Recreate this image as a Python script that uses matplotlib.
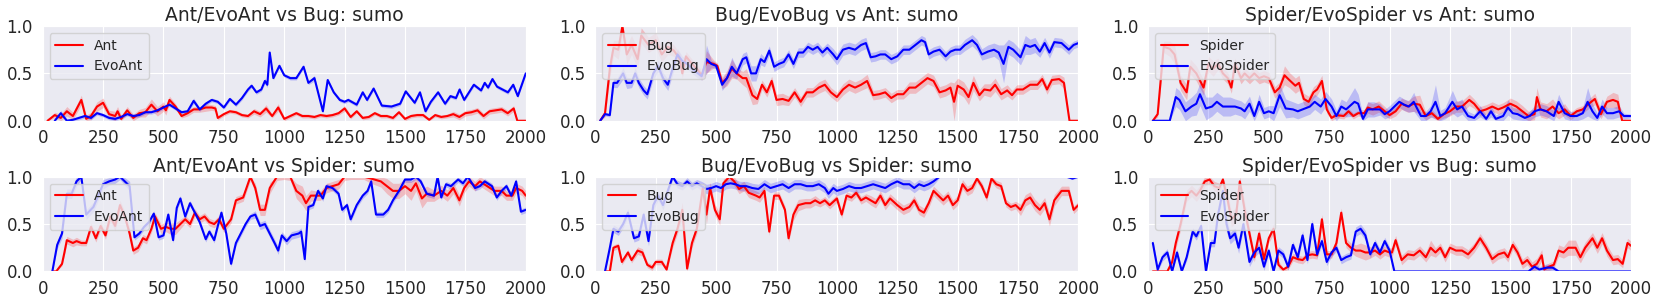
import numpy as np
import matplotlib
matplotlib.use("Agg")
import matplotlib.pyplot as plt
import seaborn as sns

# each series: (iteration, mean win rate, half width of the shaded band)
ant_vs_bug = [(20,0.00,0.01),(50,0.06,0.03),(75,0.03,0.04),(100,0.10,0.05),(125,0.05,0.04),(160,0.22,0.05),(180,0.02,0.04),(200,0.05,0.04),(225,0.15,0.05),(250,0.19,0.05),(275,0.07,0.04),(300,0.05,0.05),(310,0.10,0.05),(325,0.02,0.04),(350,0.11,0.04),(375,0.03,0.04),(400,0.08,0.04),(425,0.09,0.05),(450,0.17,0.06),(475,0.10,0.05),(500,0.15,0.05),(510,0.11,0.05),(525,0.22,0.04),(550,0.15,0.03),(575,0.05,0.02),(600,0.08,0.03),(625,0.12,0.03),(650,0.12,0.03),(675,0.14,0.04),(700,0.14,0.03),(715,0.13,0.03),(725,0.03,0.02),(750,0.07,0.02),(775,0.10,0.02),(800,0.09,0.02),(825,0.06,0.02),(850,0.05,0.02),(875,0.10,0.03),(900,0.07,0.03),(925,0.13,0.04),(950,0.05,0.02),(975,0.14,0.04),(1000,0.02,0.02),(1025,0.05,0.02),(1050,0.08,0.02),(1075,0.05,0.02),(1100,0.05,0.02),(1125,0.04,0.02),(1150,0.06,0.02),(1175,0.05,0.02),(1200,0.06,0.02),(1225,0.08,0.02),(1250,0.13,0.03),(1275,0.04,0.02),(1300,0.10,0.02),(1325,0.03,0.02),(1350,0.04,0.02),(1375,0.08,0.02),(1400,0.05,0.02),(1425,0.05,0.02),(1450,0.03,0.02),(1475,0.09,0.02),(1500,0.02,0.02),(1525,0.05,0.02),(1550,0.06,0.02),(1575,0.06,0.02),(1600,0.01,0.02),(1625,0.06,0.02),(1650,0.04,0.02),(1675,0.05,0.02),(1700,0.07,0.03),(1725,0.04,0.03),(1750,0.08,0.03),(1775,0.09,0.03),(1800,0.11,0.03),(1825,0.05,0.03),(1850,0.10,0.03),(1875,0.11,0.03),(1900,0.12,0.03),(1925,0.08,0.03),(1950,0.13,0.03),(1965,0.00,0.01),(2000,0.00,0.00)]
evoant_vs_bug = [(50,0.00,0.01),(75,0.08,0.03),(100,0.00,0.02),(125,0.01,0.02),(150,0.03,0.02),(175,0.05,0.02),(200,0.03,0.02),(225,0.08,0.02),(250,0.06,0.02),(275,0.03,0.02),(300,0.02,0.02),(325,0.04,0.02),(350,0.07,0.02),(375,0.05,0.02),(400,0.06,0.02),(425,0.09,0.02),(450,0.09,0.02),(475,0.11,0.02),(500,0.14,0.02),(525,0.17,0.02),(550,0.13,0.02),(575,0.09,0.02),(600,0.10,0.02),(625,0.21,0.03),(650,0.12,0.02),(675,0.18,0.02),(700,0.22,0.02),(725,0.20,0.02),(750,0.14,0.02),(775,0.23,0.02),(800,0.17,0.02),(825,0.24,0.02),(850,0.33,0.02),(865,0.37,0.02),(885,0.30,0.02),(905,0.33,0.02),(920,0.42,0.03),(930,0.38,0.03),(940,0.72,0.02),(955,0.45,0.02),(980,0.58,0.02),(1000,0.48,0.02),(1025,0.45,0.02),(1050,0.45,0.02),(1080,0.57,0.02),(1100,0.40,0.02),(1125,0.45,0.03),(1160,0.10,0.02),(1180,0.43,0.02),(1205,0.30,0.02),(1230,0.22,0.02),(1250,0.20,0.02),(1265,0.22,0.02),(1300,0.17,0.02),(1325,0.30,0.02),(1343,0.22,0.02),(1370,0.34,0.02),(1404,0.16,0.02),(1444,0.15,0.02),(1480,0.18,0.02),(1503,0.31,0.02),(1540,0.19,0.02),(1562,0.30,0.02),(1585,0.10,0.02),(1607,0.20,0.02),(1637,0.30,0.02),(1666,0.18,0.02),(1688,0.26,0.02),(1711,0.24,0.02),(1726,0.33,0.02),(1745,0.22,0.02),(1785,0.38,0.02),(1815,0.32,0.02),(1830,0.40,0.02),(1844,0.35,0.02),(1862,0.44,0.02),(1881,0.36,0.02),(1926,0.30,0.02),(1948,0.38,0.02),(1967,0.26,0.02),(2000,0.50,0.02)]

bug_vs_ant = [(20,0.00,0.02),(40,0.08,0.04),(60,0.55,0.10),(75,0.77,0.08),(95,0.75,0.10),(112,1.00,0.08),(130,0.70,0.10),(150,0.80,0.10),(175,0.65,0.10),(190,0.90,0.08),(220,0.80,0.08),(250,0.85,0.08),(275,0.70,0.08),(300,0.78,0.08),(325,0.74,0.06),(350,0.65,0.06),(360,0.50,0.05),(375,0.68,0.05),(400,0.60,0.05),(420,0.55,0.05),(440,0.48,0.05),(460,0.62,0.12),(490,0.60,0.04),(505,0.58,0.03),(525,0.40,0.06),(545,0.45,0.08),(565,0.55,0.10),(585,0.50,0.06),(610,0.45,0.07),(625,0.45,0.10),(650,0.27,0.10),(670,0.23,0.05),(690,0.38,0.05),(710,0.30,0.05),(730,0.42,0.05),(750,0.22,0.06),(775,0.23,0.06),(800,0.21,0.05),(825,0.30,0.05),(850,0.20,0.05),(875,0.30,0.05),(900,0.30,0.05),(925,0.35,0.06),(950,0.38,0.06),(975,0.30,0.05),(1000,0.25,0.05),(1025,0.33,0.06),(1050,0.38,0.06),(1075,0.35,0.06),(1100,0.38,0.06),(1125,0.42,0.07),(1150,0.27,0.05),(1175,0.28,0.05),(1200,0.30,0.05),(1225,0.24,0.05),(1250,0.28,0.05),(1275,0.28,0.05),(1300,0.35,0.06),(1325,0.35,0.06),(1350,0.40,0.06),(1375,0.45,0.06),(1400,0.42,0.06),(1425,0.30,0.06),(1450,0.32,0.06),(1470,0.35,0.06),(1485,0.20,0.20),(1500,0.37,0.08),(1525,0.33,0.08),(1545,0.25,0.08),(1565,0.40,0.08),(1590,0.27,0.06),(1610,0.33,0.06),(1635,0.32,0.07),(1655,0.38,0.07),(1680,0.28,0.06),(1705,0.32,0.06),(1725,0.27,0.05),(1745,0.33,0.05),(1770,0.33,0.05),(1800,0.38,0.05),(1830,0.38,0.05),(1850,0.44,0.05),(1870,0.33,0.05),(1890,0.43,0.05),(1920,0.44,0.05),(1940,0.40,0.06),(1963,0.00,0.01),(2000,0.00,0.00)]
evobug_vs_ant = [(20,0.00,0.01),(40,0.07,0.02),(60,0.06,0.02),(75,0.40,0.05),(90,0.40,0.05),(115,0.50,0.06),(130,0.40,0.06),(150,0.40,0.05),(165,0.50,0.06),(180,0.40,0.05),(200,0.32,0.05),(215,0.28,0.05),(240,0.50,0.06),(260,0.58,0.06),(280,0.45,0.06),(300,0.38,0.06),(320,0.55,0.06),(340,0.70,0.06),(360,0.63,0.05),(380,0.60,0.05),(400,0.55,0.05),(425,0.50,0.05),(440,0.47,0.04),(460,0.65,0.15),(480,0.60,0.04),(500,0.58,0.03),(525,0.38,0.06),(545,0.45,0.06),(565,0.57,0.10),(585,0.50,0.06),(610,0.65,0.06),(625,0.67,0.06),(645,0.50,0.08),(665,0.50,0.08),(685,0.65,0.06),(700,0.62,0.05),(720,0.74,0.05),(740,0.57,0.05),(760,0.60,0.05),(780,0.62,0.05),(800,0.70,0.05),(820,0.60,0.05),(840,0.72,0.05),(860,0.72,0.05),(880,0.78,0.05),(900,0.75,0.05),(920,0.78,0.05),(940,0.72,0.05),(960,0.77,0.05),(985,0.70,0.06),(1000,0.65,0.06),(1025,0.75,0.06),(1050,0.77,0.06),(1075,0.75,0.06),(1100,0.80,0.06),(1120,0.82,0.06),(1140,0.67,0.05),(1160,0.68,0.05),(1180,0.70,0.05),(1200,0.70,0.05),(1225,0.65,0.05),(1250,0.68,0.05),(1275,0.75,0.05),(1300,0.75,0.05),(1325,0.80,0.05),(1350,0.85,0.05),(1365,0.83,0.05),(1380,0.70,0.05),(1400,0.73,0.05),(1425,0.75,0.05),(1450,0.68,0.05),(1470,0.73,0.05),(1490,0.75,0.05),(1510,0.75,0.05),(1530,0.80,0.06),(1560,0.85,0.06),(1580,0.80,0.06),(1600,0.70,0.06),(1625,0.73,0.07),(1650,0.75,0.07),(1670,0.72,0.08),(1690,0.60,0.20),(1710,0.78,0.08),(1730,0.75,0.08),(1760,0.67,0.08),(1780,0.80,0.10),(1800,0.78,0.08),(1820,0.80,0.08),(1840,0.73,0.06),(1860,0.82,0.06),(1880,0.72,0.06),(1900,0.83,0.05),(1930,0.82,0.05),(1960,0.75,0.05),(1980,0.80,0.04),(2000,0.82,0.04)]

spider_vs_ant = [(20,0.00,0.01),(40,0.07,0.03),(55,0.50,0.08),(65,0.78,0.06),(90,0.76,0.08),(110,0.70,0.10),(135,0.40,0.08),(160,0.30,0.08),(175,0.57,0.08),(200,0.50,0.08),(230,0.35,0.08),(250,0.60,0.08),(270,0.55,0.08),(290,0.60,0.06),(310,0.50,0.06),(330,0.45,0.06),(345,0.35,0.06),(360,0.60,0.06),(385,0.45,0.06),(400,0.50,0.06),(420,0.45,0.06),(440,0.50,0.06),(460,0.45,0.06),(480,0.47,0.06),(500,0.45,0.06),(525,0.30,0.06),(545,0.35,0.06),(565,0.48,0.10),(585,0.43,0.08),(610,0.37,0.08),(625,0.40,0.08),(645,0.23,0.06),(665,0.20,0.06),(685,0.30,0.06),(700,0.33,0.06),(720,0.42,0.06),(740,0.12,0.04),(760,0.03,0.03),(780,0.06,0.03),(810,0.05,0.03),(830,0.10,0.03),(850,0.05,0.03),(870,0.08,0.03),(895,0.08,0.04),(910,0.14,0.06),(930,0.12,0.06),(955,0.15,0.06),(980,0.10,0.05),(1000,0.06,0.04),(1025,0.10,0.05),(1050,0.18,0.06),(1075,0.15,0.06),(1100,0.18,0.08),(1125,0.17,0.10),(1150,0.05,0.04),(1175,0.08,0.04),(1200,0.02,0.03),(1225,0.07,0.04),(1250,0.10,0.05),(1275,0.15,0.06),(1300,0.15,0.06),(1330,0.22,0.06),(1350,0.18,0.05),(1375,0.10,0.05),(1400,0.12,0.05),(1425,0.15,0.05),(1450,0.12,0.05),(1470,0.14,0.05),(1500,0.18,0.06),(1525,0.15,0.06),(1550,0.10,0.06),(1575,0.05,0.05),(1600,0.07,0.06),(1610,0.25,0.10),(1625,0.12,0.08),(1650,0.10,0.08),(1675,0.15,0.08),(1700,0.08,0.06),(1725,0.12,0.06),(1750,0.05,0.04),(1775,0.10,0.04),(1800,0.12,0.04),(1825,0.18,0.05),(1850,0.23,0.06),(1875,0.07,0.05),(1900,0.20,0.06),(1925,0.22,0.08),(1945,0.20,0.08),(1963,0.00,0.01),(2000,0.00,0.00)]
evospider_vs_ant = [(20,0.00,0.01),(90,0.00,0.01),(115,0.25,0.10),(130,0.22,0.10),(155,0.10,0.10),(180,0.15,0.10),(200,0.18,0.12),(215,0.28,0.12),(240,0.13,0.12),(265,0.15,0.10),(285,0.20,0.10),(310,0.15,0.10),(340,0.15,0.10),(360,0.15,0.08),(385,0.13,0.08),(400,0.10,0.08),(420,0.18,0.08),(440,0.05,0.06),(460,0.20,0.08),(480,0.08,0.06),(500,0.10,0.06),(520,0.08,0.08),(545,0.27,0.12),(570,0.13,0.10),(600,0.12,0.08),(620,0.10,0.08),(650,0.13,0.08),(670,0.15,0.08),(690,0.20,0.08),(715,0.15,0.08),(735,0.23,0.08),(760,0.15,0.08),(780,0.05,0.06),(800,0.15,0.08),(820,0.12,0.08),(855,0.20,0.15),(870,0.18,0.10),(890,0.02,0.04),(910,0.12,0.08),(935,0.12,0.08),(960,0.12,0.06),(980,0.07,0.05),(1000,0.10,0.06),(1040,0.20,0.06),(1060,0.17,0.06),(1080,0.15,0.06),(1100,0.20,0.10),(1130,0.05,0.05),(1150,0.05,0.05),(1170,0.10,0.06),(1190,0.20,0.18),(1210,0.05,0.06),(1230,0.08,0.06),(1260,0.20,0.12),(1280,0.12,0.08),(1300,0.15,0.08),(1325,0.05,0.05),(1350,0.03,0.04),(1375,0.10,0.06),(1400,0.02,0.04),(1420,0.10,0.06),(1440,0.02,0.04),(1470,0.05,0.05),(1490,0.14,0.08),(1510,0.08,0.06),(1530,0.07,0.06),(1560,0.03,0.04),(1580,0.05,0.05),(1600,0.10,0.06),(1625,0.12,0.06),(1650,0.10,0.06),(1680,0.05,0.06),(1700,0.20,0.08),(1725,0.08,0.06),(1750,0.05,0.05),(1775,0.05,0.05),(1800,0.08,0.06),(1820,0.20,0.15),(1840,0.10,0.08),(1860,0.03,0.05),(1880,0.15,0.08),(1900,0.08,0.06),(1925,0.08,0.06),(1950,0.10,0.06),(1970,0.05,0.03),(2000,0.05,0.02)]

ant_vs_spider = [(40,0.00,0.01),(56,0.00,0.01),(80,0.08,0.02),(90,0.20,0.03),(100,0.33,0.04),(125,0.30,0.04),(140,0.32,0.04),(160,0.30,0.03),(180,0.30,0.03),(200,0.47,0.04),(220,0.35,0.04),(240,0.48,0.04),(260,0.38,0.04),(280,0.58,0.05),(300,0.48,0.05),(320,0.70,0.05),(340,0.58,0.05),(360,0.40,0.05),(375,0.22,0.04),(395,0.25,0.04),(415,0.35,0.04),(430,0.33,0.04),(450,0.45,0.04),(465,0.58,0.04),(490,0.45,0.05),(510,0.47,0.05),(530,0.45,0.06),(550,0.45,0.06),(570,0.50,0.05),(590,0.55,0.04),(610,0.50,0.04),(630,0.62,0.04),(650,0.55,0.04),(670,0.58,0.04),(690,0.52,0.04),(710,0.50,0.04),(730,0.55,0.04),(750,0.45,0.04),(780,0.55,0.04),(800,0.75,0.04),(830,0.78,0.04),(860,1.00,0.04),(880,0.88,0.05),(900,0.65,0.06),(920,0.65,0.06),(940,0.88,0.06),(970,1.00,0.04),(1000,1.00,0.03),(1025,1.00,0.04),(1050,0.85,0.08),(1075,0.80,0.10),(1090,0.72,0.08),(1110,0.80,0.06),(1130,0.80,0.05),(1150,0.80,0.05),(1175,0.88,0.05),(1200,0.90,0.05),(1225,0.92,0.05),(1250,1.00,0.04),(1275,1.00,0.03),(1300,1.00,0.03),(1330,1.00,0.03),(1360,0.98,0.05),(1400,0.95,0.06),(1425,0.90,0.08),(1450,0.85,0.08),(1475,0.85,0.08),(1500,0.90,0.08),(1525,0.85,0.10),(1545,0.93,0.08),(1570,0.77,0.10),(1590,0.82,0.08),(1620,0.80,0.06),(1650,0.85,0.06),(1675,0.80,0.06),(1700,0.88,0.06),(1725,0.75,0.06),(1745,0.88,0.05),(1765,0.95,0.05),(1790,0.90,0.05),(1810,0.95,0.05),(1840,0.90,0.05),(1870,0.85,0.05),(1900,0.85,0.05),(1920,0.80,0.05),(1945,0.80,0.05),(1960,0.88,0.05),(1985,0.85,0.05),(2000,0.80,0.05)]
evoant_vs_spider = [(40,0.00,0.01),(60,0.28,0.04),(80,0.40,0.05),(100,0.82,0.05),(120,0.82,0.05),(140,0.95,0.05),(160,1.00,0.03),(180,0.60,0.05),(210,0.68,0.05),(250,0.92,0.05),(275,0.95,0.04),(300,0.97,0.04),(320,1.00,0.03),(340,0.95,0.04),(360,0.90,0.05),(380,0.36,0.03),(400,0.40,0.03),(420,0.47,0.03),(440,0.52,0.03),(460,0.61,0.03),(480,0.36,0.03),(500,0.38,0.03),(520,0.60,0.03),(540,0.33,0.03),(555,0.67,0.03),(570,0.77,0.03),(590,0.58,0.03),(610,0.72,0.03),(630,0.62,0.03),(650,0.52,0.03),(675,0.34,0.03),(690,0.42,0.03),(710,0.33,0.03),(725,0.48,0.03),(740,0.62,0.03),(760,0.40,0.03),(780,0.08,0.03),(800,0.30,0.03),(820,0.40,0.03),(840,0.50,0.03),(860,0.58,0.03),(880,0.60,0.04),(900,0.48,0.04),(920,0.50,0.04),(940,0.40,0.04),(960,0.30,0.04),(975,0.22,0.04),(990,0.38,0.04),(1010,0.32,0.04),(1030,0.38,0.04),(1060,0.40,0.04),(1070,0.42,0.04),(1085,0.13,0.03),(1100,0.68,0.03),(1120,0.70,0.03),(1140,0.85,0.03),(1160,0.77,0.03),(1175,0.90,0.03),(1200,0.88,0.03),(1225,0.82,0.03),(1240,0.65,0.03),(1260,0.70,0.03),(1275,0.55,0.03),(1300,0.70,0.03),(1325,0.80,0.03),(1345,0.85,0.03),(1360,0.95,0.03),(1380,0.60,0.03),(1410,0.60,0.03),(1430,0.65,0.03),(1450,0.75,0.03),(1475,0.85,0.03),(1500,0.97,0.03),(1525,0.97,0.03),(1545,1.00,0.03),(1565,0.95,0.03),(1590,0.82,0.03),(1620,0.80,0.03),(1635,1.00,0.03),(1650,0.78,0.03),(1670,0.92,0.03),(1690,0.90,0.03),(1720,0.97,0.03),(1740,0.93,0.03),(1760,1.00,0.03),(1790,0.88,0.03),(1810,0.90,0.03),(1830,0.95,0.03),(1860,0.90,0.03),(1880,0.78,0.03),(1900,0.85,0.03),(1920,0.90,0.03),(1940,0.80,0.03),(1960,0.95,0.03),(1980,0.63,0.03),(2000,0.65,0.03)]

bug_vs_spider = [(40,0.00,0.01),(60,0.00,0.01),(75,0.25,0.03),(95,0.27,0.03),(110,0.10,0.03),(135,0.20,0.03),(150,0.12,0.03),(175,0.22,0.04),(195,0.20,0.04),(215,0.07,0.03),(235,0.04,0.03),(250,0.10,0.03),(275,0.10,0.03),(295,0.02,0.02),(320,0.30,0.05),(340,0.45,0.05),(360,0.65,0.08),(380,0.03,0.03),(400,0.30,0.05),(420,0.45,0.05),(445,0.88,0.06),(460,0.60,0.10),(475,0.88,0.06),(495,0.65,0.06),(515,0.55,0.06),(530,0.93,0.05),(555,1.00,0.03),(575,0.95,0.05),(595,0.87,0.05),(615,0.90,0.05),(635,0.83,0.05),(665,0.80,0.05),(680,0.78,0.05),(700,0.85,0.05),(720,0.42,0.04),(740,0.80,0.04),(760,0.80,0.04),(785,0.65,0.04),(800,0.35,0.04),(820,0.60,0.06),(840,0.70,0.06),(870,0.72,0.05),(890,0.72,0.05),(910,0.75,0.05),(930,0.72,0.04),(950,0.75,0.04),(970,0.70,0.04),(1000,0.77,0.04),(1020,0.60,0.04),(1040,0.80,0.04),(1060,0.78,0.04),(1080,0.83,0.04),(1100,0.75,0.04),(1120,0.78,0.04),(1140,0.75,0.05),(1160,0.72,0.05),(1180,0.80,0.05),(1200,0.70,0.05),(1220,0.77,0.05),(1250,0.70,0.05),(1275,0.65,0.05),(1300,0.68,0.05),(1320,0.75,0.05),(1340,0.65,0.05),(1360,0.62,0.05),(1380,0.72,0.05),(1400,0.85,0.05),(1420,0.80,0.05),(1440,0.75,0.05),(1460,0.80,0.05),(1480,0.70,0.05),(1500,0.75,0.05),(1520,0.92,0.05),(1540,0.85,0.05),(1560,0.88,0.05),(1580,0.98,0.04),(1600,0.90,0.04),(1620,0.78,0.04),(1640,0.98,0.04),(1660,0.92,0.04),(1680,0.90,0.04),(1700,0.72,0.04),(1720,0.68,0.04),(1740,0.70,0.04),(1760,0.65,0.06),(1780,0.75,0.06),(1800,0.78,0.06),(1820,0.70,0.06),(1840,0.65,0.06),(1860,0.72,0.06),(1880,0.55,0.07),(1900,0.75,0.06),(1930,0.85,0.05),(1960,0.85,0.05),(1980,0.65,0.04),(2000,0.70,0.04)]
evobug_vs_spider = [(40,0.00,0.01),(60,0.25,0.04),(75,0.45,0.04),(95,0.42,0.04),(115,0.50,0.04),(135,0.62,0.04),(160,0.35,0.04),(180,0.37,0.04),(200,0.60,0.04),(220,0.32,0.05),(240,0.70,0.05),(260,0.80,0.05),(280,0.70,0.05),(300,0.85,0.05),(320,1.00,0.03),(340,0.92,0.04),(360,0.90,0.04),(380,0.95,0.04),(400,0.90,0.04),(420,0.93,0.04),(440,0.90,0.05),(460,0.87,0.05),(480,0.88,0.05),(500,0.90,0.05),(520,0.88,0.05),(540,0.92,0.05),(560,0.93,0.05),(580,0.92,0.05),(600,0.90,0.05),(625,0.90,0.05),(650,0.88,0.05),(675,0.87,0.05),(700,0.92,0.05),(725,0.88,0.05),(750,0.90,0.05),(775,0.92,0.05),(800,0.88,0.05),(825,0.92,0.05),(850,0.92,0.05),(875,0.90,0.05),(900,0.90,0.05),(925,0.92,0.05),(950,0.88,0.05),(965,0.82,0.05),(985,0.88,0.05),(1000,0.85,0.05),(1025,0.87,0.05),(1050,0.90,0.05),(1075,0.88,0.05),(1100,0.88,0.05),(1125,0.90,0.05),(1150,0.92,0.05),(1175,0.90,0.05),(1200,0.88,0.05),(1225,0.92,0.05),(1250,0.95,0.05),(1275,0.92,0.05),(1300,0.92,0.05),(1320,0.88,0.05),(1340,0.92,0.05),(1360,0.90,0.05),(1380,0.92,0.05),(1400,0.95,0.04),(1425,1.00,0.01),(1950,1.00,0.01),(1975,0.98,0.01),(2000,1.00,0.01)]

spider_vs_bug = [(20,0.00,0.01),(80,0.00,0.01),(100,0.10,0.04),(115,0.30,0.06),(135,0.50,0.06),(160,0.80,0.06),(180,0.85,0.06),(200,0.80,0.06),(215,0.85,0.06),(235,0.95,0.05),(255,0.97,0.04),(275,0.90,0.05),(295,0.88,0.05),(310,0.97,0.04),(330,0.75,0.08),(345,0.55,0.08),(365,0.60,0.08),(380,0.95,0.06),(400,0.65,0.08),(420,0.40,0.06),(440,0.15,0.05),(460,0.40,0.06),(480,0.13,0.05),(500,0.35,0.05),(520,0.45,0.05),(540,0.07,0.04),(560,0.02,0.02),(580,0.05,0.03),(600,0.15,0.04),(620,0.13,0.04),(640,0.12,0.04),(660,0.17,0.04),(680,0.18,0.04),(700,0.17,0.04),(720,0.55,0.05),(740,0.18,0.04),(760,0.18,0.04),(780,0.30,0.05),(800,0.62,0.05),(820,0.30,0.05),(840,0.25,0.05),(860,0.22,0.06),(880,0.22,0.08),(900,0.20,0.08),(920,0.20,0.06),(940,0.22,0.05),(960,0.18,0.05),(980,0.22,0.05),(1000,0.20,0.05),(1010,0.20,0.05),(1025,0.33,0.05),(1050,0.12,0.05),(1075,0.18,0.05),(1100,0.17,0.05),(1125,0.22,0.05),(1150,0.15,0.05),(1170,0.25,0.08),(1190,0.20,0.05),(1210,0.25,0.05),(1230,0.15,0.05),(1250,0.25,0.05),(1275,0.22,0.05),(1300,0.22,0.05),(1325,0.18,0.05),(1350,0.25,0.05),(1375,0.35,0.05),(1400,0.25,0.05),(1425,0.13,0.05),(1450,0.18,0.05),(1475,0.20,0.05),(1490,0.15,0.05),(1510,0.28,0.05),(1530,0.20,0.05),(1550,0.08,0.05),(1570,0.12,0.05),(1590,0.05,0.05),(1610,0.08,0.06),(1630,0.17,0.06),(1640,0.02,0.04),(1660,0.05,0.04),(1680,0.07,0.04),(1700,0.22,0.06),(1720,0.20,0.06),(1740,0.25,0.08),(1770,0.25,0.08),(1790,0.15,0.06),(1810,0.25,0.06),(1840,0.35,0.06),(1860,0.25,0.06),(1880,0.35,0.06),(1900,0.22,0.06),(1925,0.12,0.05),(1945,0.13,0.05),(1965,0.08,0.04),(1985,0.30,0.05),(2000,0.27,0.05)]
evospider_vs_bug = [(20,0.30,0.04),(40,0.02,0.03),(60,0.15,0.04),(80,0.20,0.04),(100,0.00,0.03),(120,0.20,0.04),(140,0.00,0.03),(160,0.15,0.04),(185,0.42,0.04),(200,0.37,0.04),(220,0.48,0.04),(240,0.00,0.03),(260,0.30,0.04),(275,0.30,0.04),(290,0.60,0.05),(310,0.85,0.05),(325,0.50,0.08),(340,0.35,0.06),(360,0.40,0.06),(375,0.25,0.06),(395,0.50,0.05),(420,0.10,0.05),(440,0.20,0.05),(460,0.25,0.05),(480,0.05,0.04),(500,0.22,0.04),(520,0.00,0.03),(540,0.22,0.04),(560,0.18,0.04),(580,0.05,0.04),(600,0.28,0.04),(620,0.15,0.04),(640,0.38,0.05),(660,0.12,0.04),(680,0.50,0.05),(700,0.18,0.04),(720,0.32,0.04),(740,0.10,0.04),(760,0.20,0.04),(780,0.25,0.04),(800,0.12,0.04),(820,0.15,0.04),(840,0.17,0.04),(860,0.42,0.05),(880,0.45,0.05),(900,0.38,0.05),(920,0.18,0.04),(940,0.30,0.04),(960,0.20,0.04),(980,0.32,0.04),(1000,0.22,0.04),(1020,0.00,0.00),(1575,0.00,0.01),(1600,0.05,0.04),(1620,0.02,0.03),(1650,0.04,0.04),(1675,0.04,0.03),(1700,0.00,0.01),(2000,0.00,0.00)]

titles = ["Ant/EvoAnt vs Bug: sumo", "Bug/EvoBug vs Ant: sumo", "Spider/EvoSpider vs Ant: sumo",
          "Ant/EvoAnt vs Spider: sumo", "Bug/EvoBug vs Spider: sumo", "Spider/EvoSpider vs Bug: sumo"]
labels = [("Ant", "EvoAnt"), ("Bug", "EvoBug"), ("Spider", "EvoSpider"),
          ("Ant", "EvoAnt"), ("Bug", "EvoBug"), ("Spider", "EvoSpider")]
series = [(ant_vs_bug, evoant_vs_bug), (bug_vs_ant, evobug_vs_ant), (spider_vs_ant, evospider_vs_ant),
          (ant_vs_spider, evoant_vs_spider), (bug_vs_spider, evobug_vs_spider), (spider_vs_bug, evospider_vs_bug)]

sns.set_style("darkgrid")
plt.rcParams["font.family"] = ["DejaVu Sans"]

fig, axes = plt.subplots(2, 3, figsize=(16.61, 3.06), dpi=100)
fig.subplots_adjust(left=0.0257, right=0.982, bottom=0.113, top=0.915, wspace=0.144, hspace=0.59)

for ax, title, (lab_a, lab_b), (base, evo) in zip(axes.flat, titles, labels, series):
    for data, color, label in [(base, "red", lab_a), (evo, "blue", lab_b)]:
        d = np.array(data)
        x, y, s = d[:, 0], d[:, 1], d[:, 2]
        ax.fill_between(x, np.clip(y - s, 0, 1), np.clip(y + s, 0, 1), color=color, alpha=0.2, lw=0)
        ax.plot(x, y, color=color, lw=1.5, label=label)
    ax.set_xlim(0, 2000)
    ax.set_ylim(0, 1)
    ax.set_xticks(np.arange(0, 2001, 250))
    ax.set_yticks([0, 0.5, 1.0])
    ax.tick_params(axis="both", labelsize=12)
    ax.tick_params(axis="x", pad=2.5)
    ax.set_title(title, fontsize=13.5, pad=3.6)
    ax.legend(loc="upper left", fontsize=10, framealpha=0.8)

fig.savefig("out.png", dpi=100)
